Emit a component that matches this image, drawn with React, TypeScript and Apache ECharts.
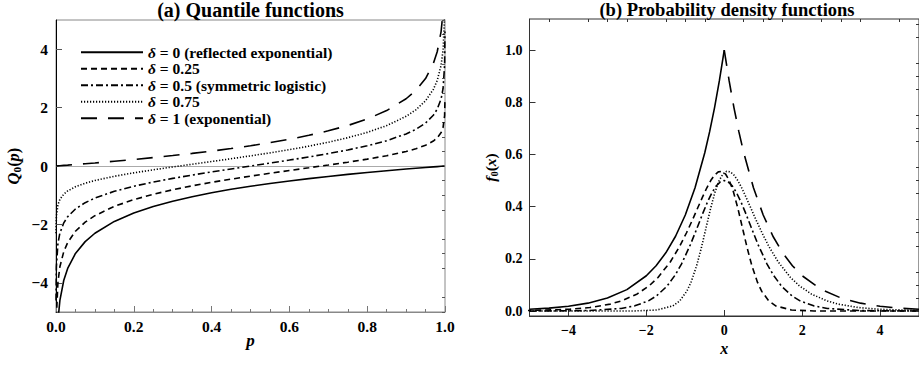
import React, { useEffect, useRef } from "react";
import * as echarts from "echarts";

const FONT = "'Liberation Serif', 'Times New Roman', serif";

// ---------- Panel (a): quantile functions ----------
const pGrid = [0.0001, 0.001, 0.005, 0.01, 0.02, 0.03, 0.05, 0.075, 0.1, 0.15, 0.2, 0.25, 0.3, 0.35, 0.4, 0.45, 0.5, 0.55, 0.6, 0.65, 0.7, 0.75, 0.8, 0.85, 0.9, 0.925, 0.95, 0.97, 0.98, 0.99, 0.995, 0.999, 0.9999];
const q0 = [-9.21, -6.908, -5.298, -4.605, -3.912, -3.507, -2.996, -2.59, -2.303, -1.897, -1.609, -1.386, -1.204, -1.05, -0.916, -0.799, -0.693, -0.598, -0.511, -0.431, -0.357, -0.288, -0.223, -0.163, -0.105, -0.078, -0.051, -0.03, -0.02, -0.01, -0.005, -0.001, 0.0];
const q25 = [-6.908, -5.181, -3.972, -3.451, -2.929, -2.623, -2.234, -1.923, -1.701, -1.382, -1.151, -0.968, -0.814, -0.68, -0.559, -0.45, -0.347, -0.249, -0.154, -0.061, 0.033, 0.131, 0.235, 0.352, 0.497, 0.589, 0.711, 0.854, 0.963, 1.144, 1.321, 1.726, 2.303];
const q50 = [-4.605, -3.453, -2.647, -2.297, -1.946, -1.738, -1.472, -1.256, -1.099, -0.867, -0.693, -0.549, -0.424, -0.31, -0.203, -0.1, 0.0, 0.1, 0.203, 0.31, 0.424, 0.549, 0.693, 0.867, 1.099, 1.256, 1.472, 1.738, 1.946, 2.297, 2.647, 3.453, 4.605];
const q75 = [-2.303, -1.726, -1.321, -1.144, -0.963, -0.854, -0.711, -0.589, -0.497, -0.352, -0.235, -0.131, -0.033, 0.061, 0.154, 0.249, 0.347, 0.45, 0.559, 0.68, 0.814, 0.968, 1.151, 1.382, 1.701, 1.923, 2.234, 2.623, 2.929, 3.451, 3.972, 5.181, 6.908];
const q100 = [0.0, 0.001, 0.005, 0.01, 0.02, 0.03, 0.051, 0.078, 0.105, 0.163, 0.223, 0.288, 0.357, 0.431, 0.511, 0.598, 0.693, 0.799, 0.916, 1.05, 1.204, 1.386, 1.609, 1.897, 2.303, 2.59, 2.996, 3.507, 3.912, 4.605, 5.298, 6.908, 9.21];

const legendNames = [
  "δ = 0 (reflected exponential)",
  "δ = 0.25",
  "δ = 0.5 (symmetric logistic)",
  "δ = 0.75",
  "δ = 1 (exponential)",
];

const aXTicks = [0, 0.2, 0.4, 0.6, 0.8, 1.0];
const aYTicks = [-4, -2, 0, 2, 4];
const aYMinor = [-5, -4.5, -3.5, -3, -2.5, -1.5, -1, -0.5, 0.5, 1, 1.5, 2.5, 3, 3.5, 4.5, 5];

// ---------- Panel (b): density functions ----------
const d0x = [-5, -4.5, -4, -3.5, -3, -2.5, -2, -1.75, -1.5, -1.25, -1, -0.75, -0.5, -0.375, -0.25, -0.125, 0];
const d0y = [0.0067, 0.0111, 0.0183, 0.0302, 0.0498, 0.0821, 0.1353, 0.1738, 0.2231, 0.2865, 0.3679, 0.4724, 0.6065, 0.6873, 0.7788, 0.8825, 1.0];
const d25x = [-6.908, -5.181, -3.972, -3.451, -2.929, -2.623, -2.234, -1.923, -1.701, -1.382, -1.151, -0.968, -0.814, -0.68, -0.559, -0.45, -0.347, -0.249, -0.154, -0.061, 0.033, 0.131, 0.235, 0.352, 0.497, 0.589, 0.711, 0.854, 0.963, 1.144, 1.321, 1.726, 2.303, 3.0, 5.0];
const d25y = [0.0001, 0.0013, 0.0067, 0.0133, 0.0265, 0.0396, 0.0655, 0.0974, 0.1286, 0.1889, 0.2462, 0.3, 0.35, 0.3957, 0.4364, 0.4714, 0.5, 0.5211, 0.5333, 0.5353, 0.525, 0.5, 0.4571, 0.3923, 0.3, 0.2413, 0.1727, 0.1098, 0.0754, 0.0388, 0.0197, 0.004, 0.0004, 0.00002, 0.0];
const d50x = [-5, -4.605, -3.453, -2.647, -2.297, -1.946, -1.738, -1.472, -1.256, -1.099, -0.867, -0.693, -0.549, -0.424, -0.31, -0.203, -0.1, 0.0, 0.1, 0.203, 0.31, 0.424, 0.549, 0.693, 0.867, 1.099, 1.256, 1.472, 1.738, 1.946, 2.297, 2.647, 3.453, 4.605, 5];
const d50y = [0.0001, 0.0002, 0.002, 0.00995, 0.0198, 0.0392, 0.0582, 0.095, 0.1388, 0.18, 0.255, 0.32, 0.375, 0.42, 0.455, 0.48, 0.495, 0.5, 0.495, 0.48, 0.455, 0.42, 0.375, 0.32, 0.255, 0.18, 0.1388, 0.095, 0.0582, 0.0392, 0.0198, 0.00995, 0.002, 0.0002, 0.0001];
const d75x = [-5.0, -3.0, -2.303, -1.726, -1.321, -1.144, -0.963, -0.854, -0.711, -0.589, -0.497, -0.352, -0.235, -0.131, -0.033, 0.061, 0.154, 0.249, 0.347, 0.45, 0.559, 0.68, 0.814, 0.968, 1.151, 1.382, 1.701, 1.923, 2.234, 2.623, 2.929, 3.451, 3.972, 5.181, 6.908];
const d75y = [0.0, 0.00002, 0.0004, 0.004, 0.0197, 0.0388, 0.0754, 0.1098, 0.1727, 0.2413, 0.3, 0.3923, 0.4571, 0.5, 0.525, 0.5353, 0.5333, 0.5211, 0.5, 0.4714, 0.4364, 0.3957, 0.35, 0.3, 0.2462, 0.1889, 0.1286, 0.0974, 0.0655, 0.0396, 0.0265, 0.0133, 0.0067, 0.0013, 0.0001];
const d100x = [0, 0.125, 0.25, 0.375, 0.5, 0.75, 1, 1.25, 1.5, 1.75, 2, 2.5, 3, 3.5, 4, 4.5, 5];
const d100y = [1.0, 0.8825, 0.7788, 0.6873, 0.6065, 0.4724, 0.3679, 0.2865, 0.2231, 0.1738, 0.1353, 0.0821, 0.0498, 0.0302, 0.0183, 0.0111, 0.0067];

const bXTicks = [-4, -2, 0, 2, 4];
const bXMinor = [-4.5, -3.5, -3, -2.5, -1.5, -1, -0.5, 0.5, 1, 1.5, 2.5, 3, 3.5, 4.5];
const bYTicks = [0, 0.2, 0.4, 0.6, 0.8, 1.0];
const bYMinor = [0.05, 0.1, 0.15, 0.25, 0.3, 0.35, 0.45, 0.5, 0.55, 0.65, 0.7, 0.75, 0.85, 0.9, 0.95, 1.05, 1.1];

const dashStyles: any[] = ["solid", [6, 4], [7, 3, 2, 3], [1.2, 1.8], [16, 11]];

const zip = (xs: number[], ys: number[]) => xs.map((x, i) => [x, ys[i]]);
const fmtMinus = (v: number) => (v < 0 ? "\u2212" + String(Math.abs(v)) : String(v));

const labelA = { fontFamily: FONT, fontWeight: "bold" as const, fontSize: 15.5, lineHeight: 13, color: "#000" };
const labelB = { fontFamily: FONT, fontWeight: "bold" as const, fontSize: 14, lineHeight: 13, color: "#000" };
const mkRich = (size: number, lh?: number) => ({
  it: { fontFamily: FONT, fontWeight: "bold", fontStyle: "italic", fontSize: size, color: "#000", ...(lh ? { lineHeight: lh } : {}) },
  up: { fontFamily: FONT, fontWeight: "bold", fontSize: size, color: "#000" },
  sub: { fontFamily: FONT, fontWeight: "bold", fontSize: size * 0.68, color: "#000", padding: [7, 0, 0, 0] },
});

function buildOption(): any {
  const qSets = [q0, q25, q50, q75, q100];
  const dSets = [
    [d0x, d0y],
    [d25x, d25y],
    [d50x, d50y],
    [d75x, d75y],
    [d100x, d100y],
  ];
  const series: any[] = [];
  qSets.forEach((q, i) => {
    series.push({
      type: "line",
      name: legendNames[i],
      xAxisIndex: 0,
      yAxisIndex: 0,
      data: zip(pGrid, q),
      symbol: "none",
      showSymbol: false,
      clip: true,
      lineStyle: { color: "#000", width: 1.6, type: dashStyles[i] },
      itemStyle: { color: "#000" },
      z: 3,
      ...(i === 0
        ? {
            markLine: {
              silent: true,
              symbol: ["none", "none"],
              label: { show: false },
              lineStyle: { color: "#aaa", type: "solid", width: 1.2 },
              data: [{ yAxis: 0 }],
              z: 1,
            },
          }
        : {}),
    });
  });
  dSets.forEach(([xs, ys], i) => {
    series.push({
      type: "line",
      name: "pdf " + i,
      xAxisIndex: 2,
      yAxisIndex: 2,
      data: zip(xs, ys),
      symbol: "none",
      showSymbol: false,
      clip: true,
      lineStyle: { color: "#000", width: 1.6, type: dashStyles[i] },
      z: 3,
    });
  });

  const noZero = { onZero: false };

  return {
    animation: false,
    backgroundColor: "#fff",
    title: [
      {
        text: "(a) Quantile functions",
        left: 250.5,
        top: 0,
        padding: 0,
        textAlign: "center",
        textStyle: { fontFamily: FONT, fontWeight: "bold", fontSize: 20, color: "#000" },
      },
      {
        text: "(b) Probability density functions",
        left: 727,
        top: 0,
        padding: 0,
        textAlign: "center",
        textStyle: { fontFamily: FONT, fontWeight: "bold", fontSize: 18.5, color: "#000" },
      },
    ],
    legend: {
      data: legendNames,
      left: 80,
      top: 44,
      orient: "vertical",
      itemWidth: 62,
      itemHeight: 14,
      itemGap: 0,
      selectedMode: false,
      padding: 0,
      itemStyle: { color: "rgba(0,0,0,0)", borderWidth: 0, opacity: 0 },
      formatter: (name: string) => "{d|δ}" + name.slice(1),
      textStyle: {
        fontFamily: FONT,
        fontWeight: "bold",
        fontSize: 15.5,
        lineHeight: 16.5,
        color: "#000",
        rich: {
          d: { fontFamily: FONT, fontWeight: "bold", fontStyle: "italic", fontSize: 15.5, lineHeight: 16.5, color: "#000" },
        },
      },
    },
    grid: [
      { left: 56, top: 20, width: 389, height: 292, show: true, borderColor: "#888", borderWidth: 1, backgroundColor: "transparent" },
      { left: 529.5, top: 19, width: 395, height: 297, show: true, borderColor: "#333", borderWidth: 1, backgroundColor: "transparent" },
    ],
    xAxis: [
      {
        gridIndex: 0,
        type: "value",
        min: 0,
        max: 1,
        interval: 0.2,
        axisLine: { show: true, ...noZero, lineStyle: { color: "#888", width: 1 } },
        axisTick: { show: true, inside: true, length: 6, lineStyle: { color: "#777" } },
        minorTick: { show: true, splitNumber: 4, length: 3, lineStyle: { color: "#777" } },
        axisLabel: { ...labelA, margin: 8, formatter: (v: number) => v.toFixed(1), customValues: aXTicks },
        splitLine: { show: false },
        minorSplitLine: { show: false },
        name: "{it|p}",
        nameLocation: "middle",
        nameGap: 21,
        nameMoveOverlap: false,
        nameTextStyle: { rich: mkRich(17, 14) },
      },
      {
        gridIndex: 1,
        type: "value",
        min: -5,
        max: 5,
        axisLine: { show: true, ...noZero, lineStyle: { color: "#333", width: 1 } },
        axisTick: { show: true, inside: true, length: 6, customValues: bXTicks, lineStyle: { color: "#333" } },
        axisLabel: { ...labelB, margin: 8, formatter: fmtMinus, customValues: bXTicks },
        splitLine: { show: false },
        name: "{it|x}",
        nameLocation: "middle",
        nameGap: 25,
        nameMoveOverlap: false,
        nameTextStyle: { rich: mkRich(16, 14) },
      },
      {
        gridIndex: 1,
        type: "value",
        min: -5,
        max: 5,
        axisLine: { show: false, ...noZero },
        axisTick: { show: true, inside: true, length: 3, customValues: bXMinor, lineStyle: { color: "#333" } },
        axisLabel: { show: false },
        splitLine: { show: false },
      },
    ],
    yAxis: [
      {
        gridIndex: 0,
        type: "value",
        min: -5,
        max: 5,
        axisLine: { show: true, ...noZero, lineStyle: { color: "#000", width: 1 } },
        axisTick: { show: true, inside: true, length: 6, customValues: aYTicks, lineStyle: { color: "#555" } },
        axisLabel: { ...labelA, margin: 8, formatter: fmtMinus, customValues: aYTicks },
        splitLine: { show: false },
        name: "{it|Q}{sub|0}{up|(}{it|p}{up|)}",
        nameLocation: "middle",
        nameRotate: 90,
        nameGap: 34,
        nameMoveOverlap: false,
        nameTextStyle: { rich: mkRich(16.5) },
      },
      {
        gridIndex: 0,
        type: "value",
        min: -5,
        max: 5,
        axisLine: { show: false, ...noZero },
        axisTick: { show: true, inside: true, length: 3, customValues: aYMinor, lineStyle: { color: "#555" } },
        axisLabel: { show: false },
        splitLine: { show: false },
      },
      {
        gridIndex: 1,
        type: "value",
        min: -0.019,
        max: 1.119,
        axisLine: { show: true, ...noZero, lineStyle: { color: "#333", width: 1 } },
        axisTick: { show: true, inside: true, length: 6, customValues: bYTicks, lineStyle: { color: "#333" } },
        axisLabel: { ...labelB, margin: 7, formatter: (v: number) => v.toFixed(1), customValues: bYTicks },
        splitLine: { show: false },
        name: "{it|f}{sub|0}{up|(}{it|x}{up|)}",
        nameLocation: "middle",
        nameRotate: 90,
        nameGap: 30,
        nameMoveOverlap: false,
        nameTextStyle: { rich: mkRich(15.5) },
      },
      {
        gridIndex: 1,
        type: "value",
        min: -0.019,
        max: 1.119,
        axisLine: { show: false, ...noZero },
        axisTick: { show: true, inside: true, length: 3, customValues: bYMinor, lineStyle: { color: "#333" } },
        axisLabel: { show: false },
        splitLine: { show: false },
      },
    ],
    series,
  };
}

export default function App() {
  const ref = useRef<HTMLDivElement>(null);
  useEffect(() => {
    const chart = echarts.init(ref.current!, null, { renderer: "svg" });
    chart.setOption(buildOption());
    return () => chart.dispose();
  }, []);
  return (
    <div
      ref={ref}
      style={{ position: "fixed", left: 0, top: 0, width: 919, height: 367, background: "#fff" }}
    />
  );
}
